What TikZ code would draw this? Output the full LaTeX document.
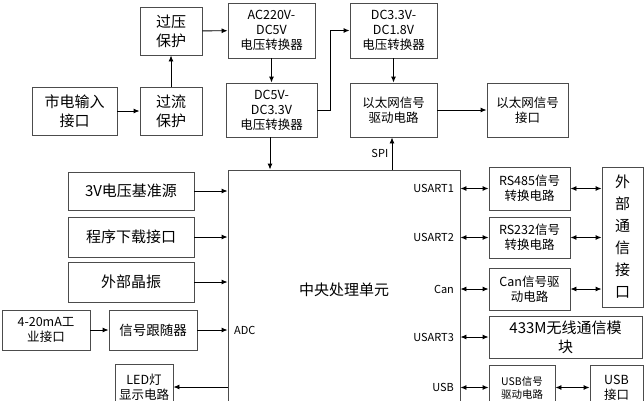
\documentclass[tikz,border=0pt]{standalone}
\usepackage{fontspec}
\setmainfont{Noto Sans CJK SC}
\usetikzlibrary{arrows.meta}
\tikzset{
  blk/.style={draw=black!70, line width=0.9pt, align=center, inner sep=1pt, font=\fontsize{12.5}{15}\selectfont},
  big/.style={font=\fontsize{15}{19}\selectfont},
  lbl/.style={font=\fontsize{11}{13}\selectfont},
  arr/.style={-{Latex[length=6pt,width=5pt]}, line width=0.9pt},
  darr/.style={{Latex[length=6pt,width=5pt]}-{Latex[length=6pt,width=5pt]}, line width=0.9pt}
}
\newcommand{\bx}[7][]{% options, name, x1, y1, x2, y2, text
  \node[blk, #1, minimum width={#5-#3}, minimum height={#6-#4}] (#2) at ({(#3+#5)/2},{(#4+#6)/2}) {#7};}
\begin{document}
\begin{tikzpicture}[x=1pt,y=-1pt]
    \useasboundingbox (0,0) rectangle (644,400);

    % power path
    \bx[big]{mains}{32}{87}{117}{135}{市电输入\\接口}
    \bx[big]{ocp}{140}{87}{202}{135}{过流\\保护}
    \bx[big]{ovp}{140}{7}{202}{55}{过压\\保护}
    \bx{acdc}{228}{3}{315}{58}{AC220V-\\DC5V\\电压转换器}
    \bx{dcfive}{226}{83}{317}{137}{DC5V-\\DC3.3V\\电压转换器}
    \bx{dcone}{350}{3}{437}{58}{DC3.3V-\\DC1.8V\\电压转换器}
    \bx{ethdrv}{350}{83}{437}{137}{以太网信号\\驱动电路}
    \bx{ethif}{487}{83}{568}{137}{以太网信号\\接口}

    % central unit
    \node[blk, big, minimum width=232, minimum height=240] (cpu) at (344,290) {中央处理单元};

    % left side
    \bx[big]{vref}{68}{172}{194}{210}{3V电压基准源}
    \bx[big]{prog}{68}{217}{194}{257}{程序下载接口}
    \bx[big]{xtal}{68}{262}{194}{302}{外部晶振}
    \bx{ind}{2}{310}{90}{350}{4-20mA工\\业接口}
    \bx[font=\fontsize{13.5}{16}\selectfont]{follow}{109}{310}{197}{350}{信号跟随器}
    \bx{led}{115}{364}{173}{410}{LED灯\\显示电路}

    % right side
    \bx{rsfour}{489}{167}{570}{210}{RS485信号\\转换电路}
    \bx{rstwo}{489}{217}{570}{258}{RS232信号\\转换电路}
    \bx{can}{489}{268}{570}{310}{Can信号驱\\动电路}
    \bx[big]{radio}{489}{316}{642}{358}{433M无线通信模\\块}
    \bx[font=\fontsize{10.5}{13}\selectfont]{usbdrv}{489}{365}{555}{410}{USB信号\\驱动电路}
    \bx{usbif}{590}{365}{643}{410}{USB\\接口}
    \bx[font=\fontsize{15}{22}\selectfont]{extif}{602}{167}{643}{307}{外\\部\\通\\信\\接\\口}

    % connectors
    \draw[arr] (mains) -- (ocp);
    \draw[arr] (ocp) -- (ovp);
    \draw[arr] (ovp) -- (acdc);
    \draw[arr] (acdc) -- (dcfive);
    \draw[arr] (dcfive.east) -- ++(13,0) |- (dcone.west);
    \draw[arr] (dcone) -- (ethdrv);
    \draw[arr] (ethdrv) -- (ethif);
    \draw[arr] (dcfive.south -| 270,0) -- (cpu.north -| 270,0);
    \draw[arr] (cpu.north -| 392,0) -- node[lbl, left] {SPI} (ethdrv.south -| 392,0);

    \draw[arr] (vref) -- (vref -| cpu.west);
    \draw[arr] (prog) -- (prog -| cpu.west);
    \draw[arr] (xtal) -- (xtal -| cpu.west);
    \draw[arr] (ind) -- (follow);
    \draw[arr] (follow) -- (follow -| cpu.west);
    \node[lbl, anchor=west] (adc) at ([xshift=3pt]follow -| cpu.west) {ADC};
    \draw[arr] (cpu.west |- led) -- (led);

    \foreach \b/\t in {rsfour/USART1, rstwo/USART2, can/Can, radio/USART3, usbdrv/USB} {
        \draw[darr] (cpu.east |- \b) -- (\b.west);
        \node[lbl, anchor=east] at ([xshift=-3pt]cpu.east |- \b) {\t};
    }
    \draw[darr] (rsfour) -- (rsfour -| extif.west);
    \draw[darr] (rstwo) -- (rstwo -| extif.west);
    \draw[darr] (can) -- (can -| extif.west);
    \draw[darr] (usbdrv) -- (usbif);

\end{tikzpicture}
\end{document}
